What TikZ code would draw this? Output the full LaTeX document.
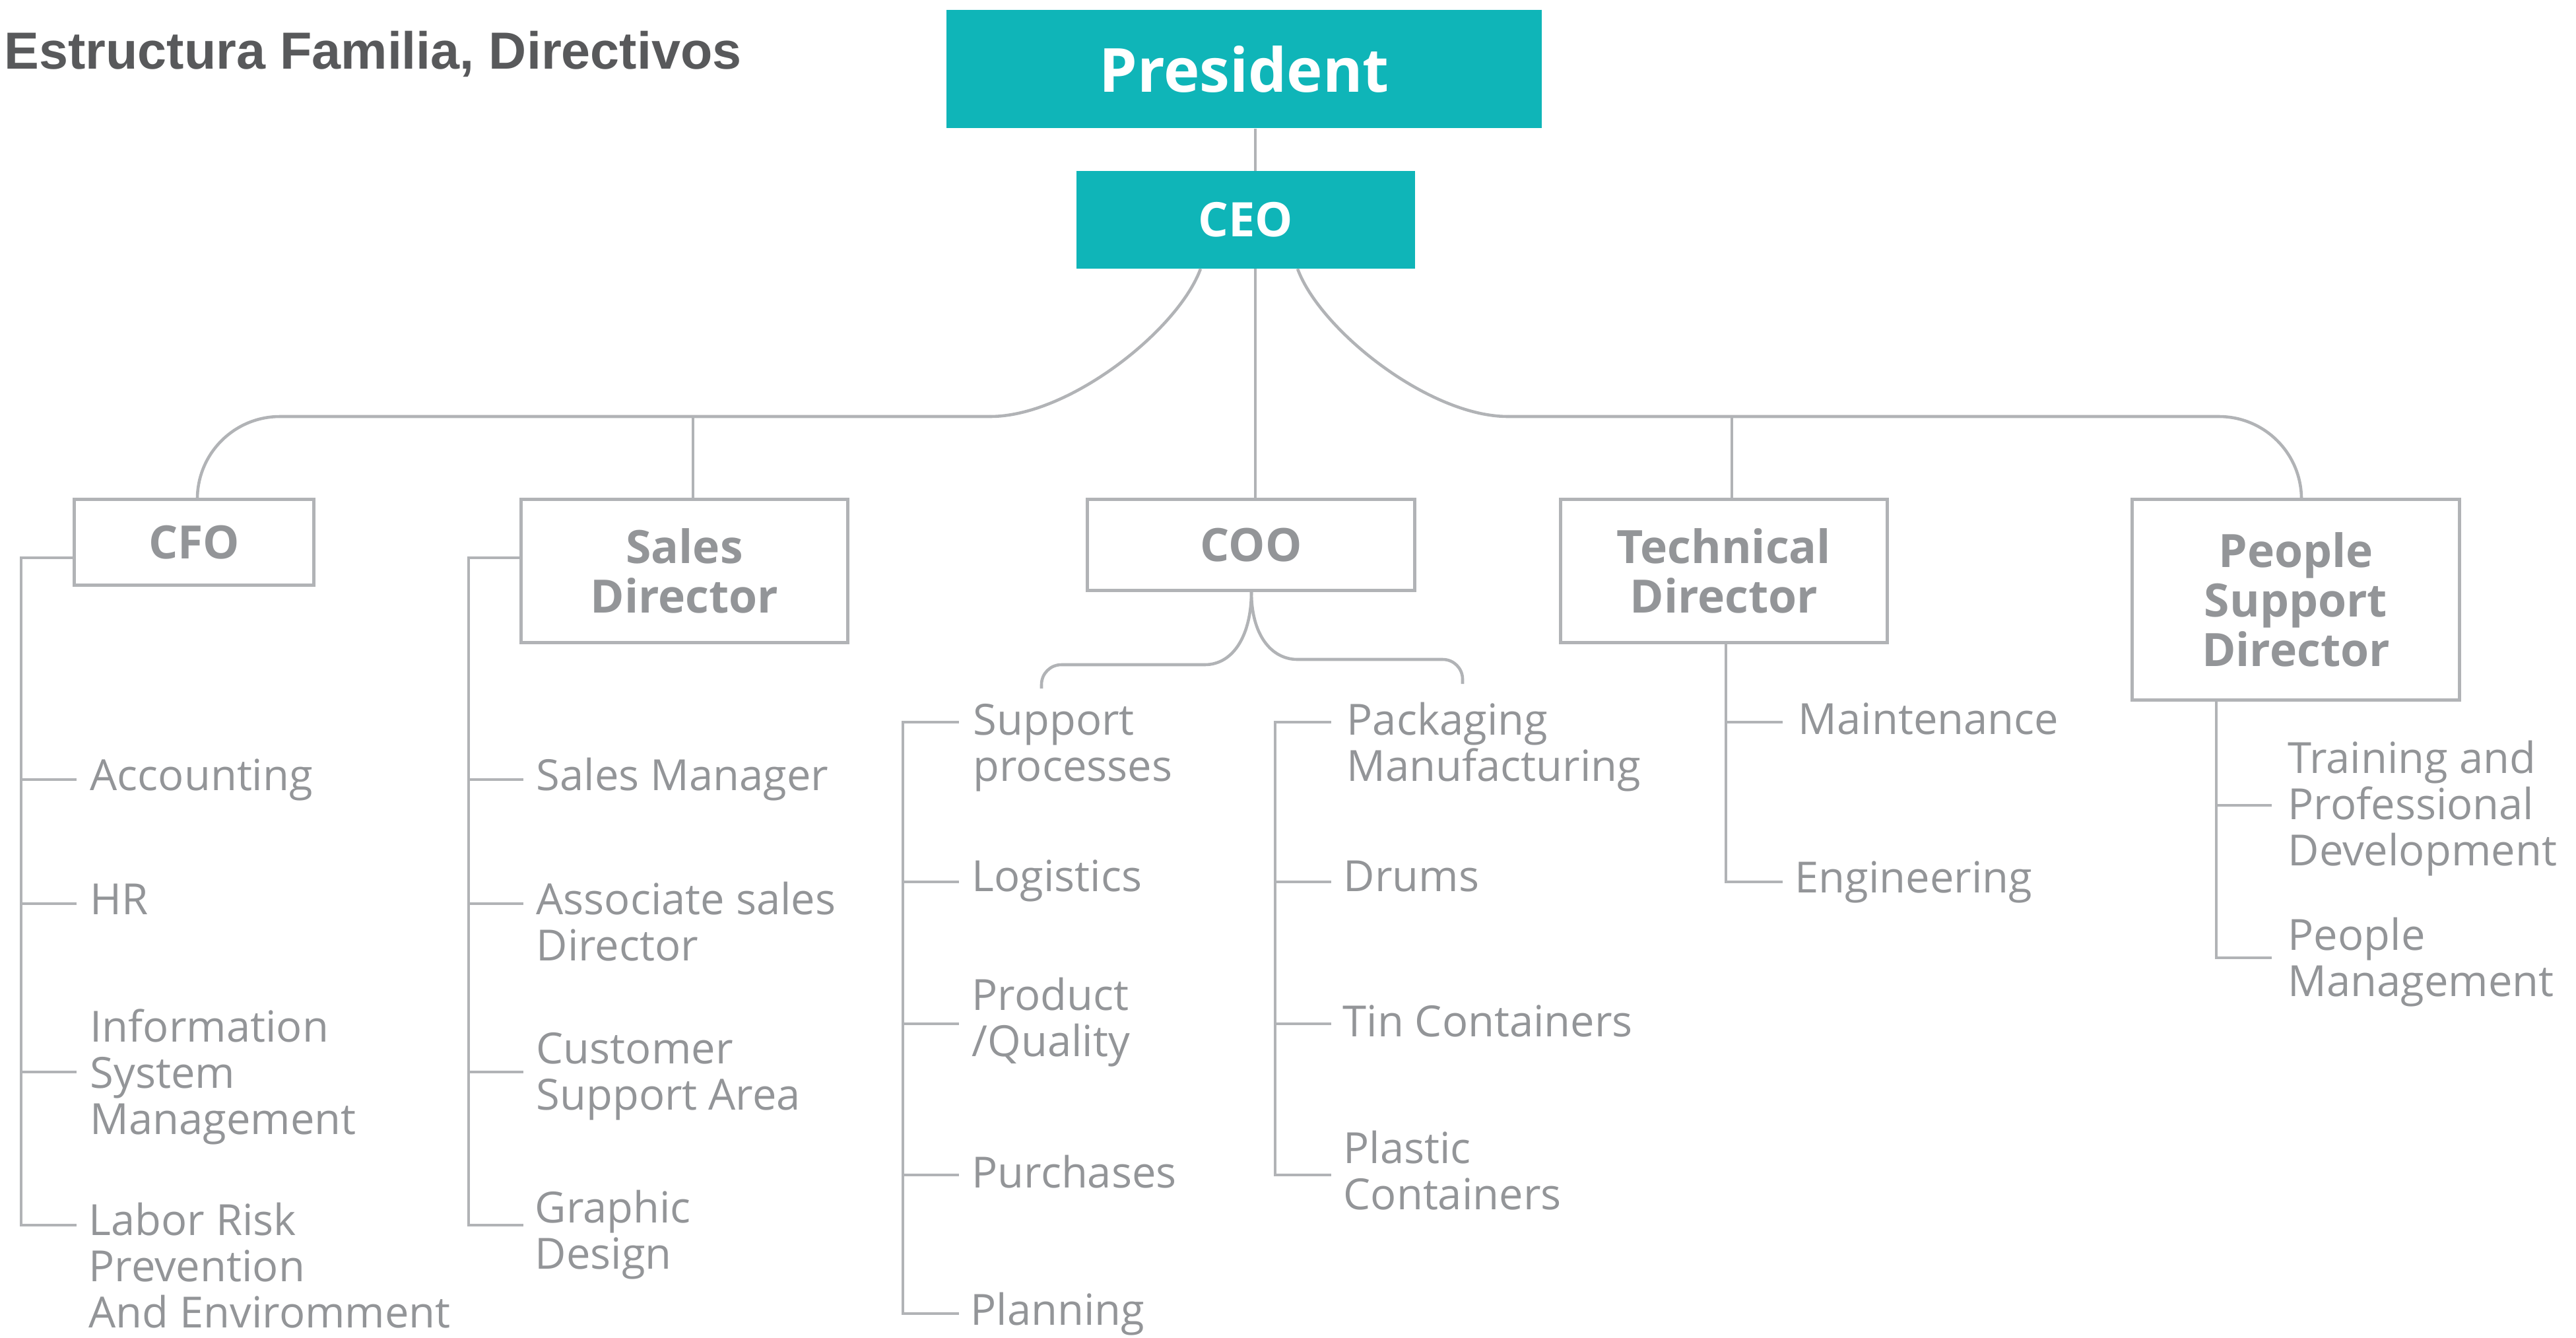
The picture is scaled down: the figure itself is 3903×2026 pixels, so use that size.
\documentclass[tikz,border=0pt]{standalone}
\usepackage{fontspec}
\setmainfont{Open Sans}
\newfontfamily\titlefont{Liberation Sans}
\definecolor{teal1}{HTML}{0FB5B8}
\definecolor{lgrey}{HTML}{B1B3B6}
\definecolor{tgrey}{HTML}{939598}
\definecolor{dgrey}{HTML}{58595B}
\newcommand{\mlines}[1]{\vtop{\halign{##\hfil\cr #1\crcr}}}
\begin{document}
\begin{tikzpicture}[x=0.01cm,y=-0.01cm,
 conn/.style={draw=lgrey,line width=1.3pt},
 tealbox/.style={fill=teal1,text=white,font=\bfseries\fontsize{20.5}{22}\selectfont,inner sep=0},
 headbox/.style={draw=lgrey,line width=1.3pt,text=tgrey,font=\bfseries\fontsize{19.8}{21.3}\selectfont,align=center,inner sep=0},
 item/.style={anchor=base west,inner sep=0,text=tgrey,font=\fontsize{18.5}{20}\selectfont}]
\useasboundingbox (0,0) rectangle (3903,2026);

\node[anchor=base west,inner sep=0,text=dgrey,font=\titlefont\bfseries\fontsize{22.5}{24}\selectfont] (title) at (6,104) {Estructura Familia, Directivos};

\node[tealbox,minimum width=9.01cm,minimum height=1.79cm,font=\bfseries\fontsize{26.2}{30}\selectfont] (pres) at (1885,104.5) {President};
\node[tealbox,minimum width=5.13cm,minimum height=1.47cm] (ceo) at (1887.5,333) {CEO};
\node[headbox,minimum width=3.63cm,minimum height=1.30cm] (cfo) at (294,821.5) {CFO};
\node[headbox,minimum width=4.95cm,minimum height=2.17cm] (sd) at (1037,865) {Sales\\Director};
\node[headbox,minimum width=4.96cm,minimum height=1.38cm] (coo) at (1895.5,825.5) {COO};
\node[headbox,minimum width=4.95cm,minimum height=2.17cm] (td) at (2612,865) {Technical\\Director};
\node[headbox,minimum width=4.96cm,minimum height=3.04cm] (psd) at (3478.5,908.5) {People\\Support\\Director};

% top connectors
\coordinate (tx) at (1902,0);
\draw[conn] (pres.south -| tx) -- (ceo.north -| tx);
\draw[conn] (ceo.south -| tx) -- (coo.north -| tx);
\draw[conn] (ceo.south -| 1819,0) .. controls (1785,500) and (1620,631) .. (1500,631);
\draw[conn,rounded corners=1.25cm] (1500,631) -- (299,631) -- (cfo.north -| 299,0);
\draw[conn] (1050,631) -- (sd.north -| 1050,0);
\draw[conn] (ceo.south -| 1966,0) .. controls (2000,500) and (2165,631) .. (2285,631);
\draw[conn,rounded corners=1.25cm] (2285,631) -- (3487,631) -- (psd.north -| 3487,0);
\draw[conn] (2624,631) -- (td.north -| 2624,0);

% COO braces
\draw[conn] (coo.south -| 1896,0) .. controls (1896,960) and (1870,1007) .. (1825,1007);
\draw[conn,rounded corners=0.3cm] (1825,1007) -- (1578,1007) -- (1578,1043);
\draw[conn] (coo.south -| 1896,0) .. controls (1896,960) and (1925,999) .. (1966,999);
\draw[conn,rounded corners=0.3cm] (1966,999) -- (2216,999) -- (2216,1036);

% brackets
\draw[conn] (cfo.west |- 0,845) -- (32,845) -- (32,1856) -- (116,1856);
\foreach \y in {1181,1369,1624} \draw[conn] (32,\y) -- (116,\y);
\draw[conn] (sd.west |- 0,845) -- (710,845) -- (710,1856) -- (793,1856);
\foreach \y in {1181,1369,1624} \draw[conn] (710,\y) -- (793,\y);
\draw[conn] (1453,1094) -- (1368,1094) -- (1368,1990) -- (1453,1990);
\foreach \y in {1336,1551,1780} \draw[conn] (1368,\y) -- (1453,\y);
\draw[conn] (2017,1094) -- (1932,1094) -- (1932,1780) -- (2017,1780);
\foreach \y in {1336,1551} \draw[conn] (1932,\y) -- (2017,\y);
\draw[conn] (td.south -| 2615,0) -- (2615,1336) -- (2701,1336);
\draw[conn] (2615,1094) -- (2701,1094);
\draw[conn] (psd.south -| 3358,0) -- (3358,1451) -- (3442,1451);
\draw[conn] (3358,1220) -- (3442,1220);

% items
\node[item] (acc) at (136,1197) {Accounting};
\node[item] (hr) at (136,1385) {HR};
\node[item] (ism) at (136,1578) {\mlines{Information\cr System\cr Management}};
\node[item] (lrp) at (134,1871) {\mlines{Labor Risk\cr Prevention\cr And Enviromment}};
\node[item] (sm) at (812,1197) {Sales Manager};
\node[item] (asd) at (812,1385) {\mlines{Associate sales\cr Director}};
\node[item] (csa) at (812,1611) {\mlines{Customer\cr Support Area}};
\node[item] (gd) at (810,1852) {\mlines{Graphic\cr Design}};
\node[item] (sp) at (1474,1113) {\mlines{Support\cr processes}};
\node[item] (log) at (1472,1350) {Logistics};
\node[item] (pq) at (1472,1530) {\mlines{Product\cr /Quality}};
\node[item] (pur) at (1472,1799) {Purchases};
\node[item] (pla) at (1470,2007) {Planning};
\node[item] (pm) at (2040,1113) {\mlines{Packaging\cr Manufacturing}};
\node[item] (dr) at (2035,1350) {Drums};
\node[item] (tc) at (2034,1570) {Tin Containers};
\node[item] (pc) at (2035,1762) {\mlines{Plastic\cr Containers}};
\node[item] (mai) at (2724,1112) {Maintenance};
\node[item] (eng) at (2719,1352) {Engineering};
\node[item] (tpd) at (3466,1171) {\mlines{Training and\cr Professional\cr Development}};
\node[item] (pmg) at (3466,1439) {\mlines{People\cr Management}};
\end{tikzpicture}
\end{document}
